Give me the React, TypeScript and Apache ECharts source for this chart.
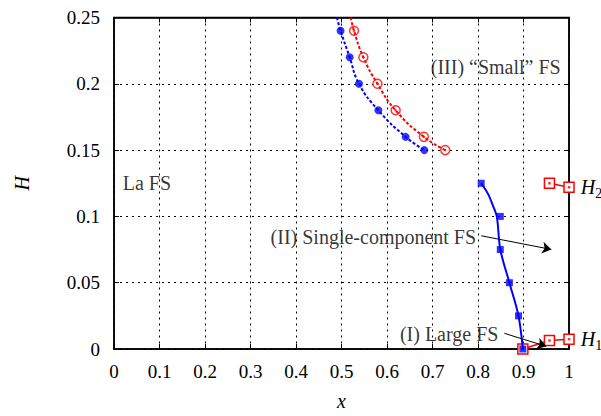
import React, { useEffect, useRef } from "react";
import * as echarts from "echarts";

// Axis ticks
const xTicks = [0, 0.1, 0.2, 0.3, 0.4, 0.5, 0.6, 0.7, 0.8, 0.9, 1];
const yTicks = [0, 0.05, 0.1, 0.15, 0.2, 0.25];

// Blue filled circles (dotted fitted curve)
const blueCircleX = [0.498, 0.518, 0.5385, 0.581, 0.641, 0.682];
const blueCircleY = [0.24, 0.22, 0.2, 0.18, 0.16, 0.15];
const blueCurveTop = [0.49, 0.25];

// Red open circles (dotted fitted curve)
const redCircleX = [0.5275, 0.548, 0.579, 0.619, 0.681, 0.728];
const redCircleY = [0.24, 0.22, 0.2, 0.18, 0.16, 0.15];
const redCurveTop = [0.52, 0.25];

// Blue filled squares, single-component branch
const blueSquareX = [0.807, 0.849, 0.849, 0.869, 0.889, 0.8986];
const blueSquareY = [0.125, 0.1, 0.075, 0.05, 0.025, 0];
// Fitted solid curve through the single-component branch
const blueFitX = [0.807, 0.822, 0.833, 0.8415, 0.849, 0.869, 0.889, 0.8986];
const blueFitY = [0.125, 0.117, 0.108, 0.0996, 0.075, 0.05, 0.025, 0];

// Red open squares, H1 and H2 branches
const h1X = [0.8986, 0.957, 1.0];
const h1Y = [0, 0.0064, 0.0074];
const h2X = [0.957, 1.0];
const h2Y = [0.125, 0.122];

// Annotations
const annoText = ["(III) \u201cSmall\u201d FS", "La FS", "(II) Single-component FS", "(I) Large FS"];
const annoX = [0.839, 0.0724, 0.57, 0.7366];
const annoY = [0.2128, 0.1252, 0.0842, 0.0113];
const arrowFrom = [[0.807, 0.0854], [0.858, 0.0118]];
const arrowTo = [[0.961, 0.0751], [0.95, 0.002]];

const FONT = "'Liberation Serif', 'Times New Roman', Times, 'DejaVu Serif', serif";
const zip = (xs: number[], ys: number[]) => xs.map((x, i) => [x, ys[i]]);

export default function App() {
  const ref = useRef<HTMLDivElement>(null);
  useEffect(() => {
    if (!ref.current) return;
    const chart = echarts.init(ref.current, null, { renderer: "svg" });
    const xMin = xTicks[0], xMax = xTicks[xTicks.length - 1], xInt = xTicks[1] - xTicks[0];
    const yMin = yTicks[0], yMax = yTicks[yTicks.length - 1], yInt = yTicks[1] - yTicks[0];
    const axisCommon = {
      axisLine: { show: true, onZero: false, lineStyle: { color: "#000", width: 1.5 } },
      axisTick: { show: true, inside: true, length: 5, lineStyle: { color: "#000", width: 1 } },
    };
    const hLabel = (sub: string) => ({
      show: true,
      position: "right",
      distance: 6,
      formatter: `{h|H}{s|${sub}}`,
      rich: {
        h: { fontFamily: FONT, fontStyle: "italic", fontSize: 20, color: "#000", lineHeight: 22 },
        s: { fontFamily: FONT, fontSize: 14, color: "#000", padding: [12, 0, 0, 0], lineHeight: 22 },
      },
    });
    const h1Data = zip(h1X, h1Y).map((v, i) =>
      i === h1X.length - 1 ? { value: v, label: hLabel("1") } : { value: v }
    );
    const h2Data = zip(h2X, h2Y).map((v, i) =>
      i === h2X.length - 1 ? { value: v, label: hLabel("2") } : { value: v }
    );
    chart.setOption({
      animation: false,
      backgroundColor: "#fff",
      textStyle: { fontFamily: FONT },
      grid: { left: 114, right: 32, top: 17.5, bottom: 59, show: true, borderColor: "#000", borderWidth: 1.5 },
      xAxis: [
        {
          type: "value", min: xMin, max: xMax, interval: xInt, position: "bottom",
          ...axisCommon,
          name: "x", nameLocation: "middle", nameGap: 42,
          nameTextStyle: { fontFamily: FONT, fontStyle: "italic", fontSize: 20, color: "#000" },
          axisLabel: { fontFamily: FONT, fontSize: 19, color: "#000", margin: 13 },
          splitLine: { show: true, lineStyle: { color: "#000", width: 1, type: [2, 4] } },
        },
        {
          type: "value", min: xMin, max: xMax, interval: xInt, position: "top",
          ...axisCommon, axisLabel: { show: false }, splitLine: { show: false },
        },
      ],
      yAxis: [
        {
          type: "value", min: yMin, max: yMax, interval: yInt, position: "left",
          ...axisCommon,
          name: "H", nameLocation: "middle", nameGap: 82, nameRotate: 90,
          nameTextStyle: { fontFamily: FONT, fontStyle: "italic", fontSize: 20, color: "#000" },
          axisLabel: { fontFamily: FONT, fontSize: 19, color: "#000", margin: 14 },
          splitLine: { show: true, lineStyle: { color: "#000", width: 1, type: [2, 4] } },
        },
        {
          type: "value", min: yMin, max: yMax, interval: yInt, position: "right",
          ...axisCommon, axisLabel: { show: false }, splitLine: { show: false },
        },
      ],
      series: [
        {
          type: "line", smooth: true, symbol: "none",
          data: [blueCurveTop, ...zip(blueCircleX, blueCircleY)],
          lineStyle: { color: "#0000ff", width: 2, type: [3, 2] },
        },
        {
          type: "line", smooth: true, symbol: "none",
          data: [redCurveTop, ...zip(redCircleX, redCircleY)],
          lineStyle: { color: "#ff0000", width: 2, type: [3, 2] },
        },
        {
          type: "scatter", symbol: "circle", symbolSize: 8,
          data: zip(blueCircleX, blueCircleY),
          itemStyle: { color: "#0000ff" },
        },
        {
          type: "scatter", symbol: "circle", symbolSize: 9,
          data: zip(redCircleX, redCircleY),
          itemStyle: { color: "#fff", borderColor: "#ff0000", borderWidth: 1.5 },
        },
        {
          type: "scatter", symbol: "circle", symbolSize: 2.5,
          data: zip(redCircleX, redCircleY),
          itemStyle: { color: "#ff0000" },
        },
        {
          type: "line", symbol: "rect", symbolSize: 10, showSymbol: true, z: 2,
          data: h1Data,
          lineStyle: { color: "#ff0000", width: 1.5 },
          itemStyle: { color: "#fff", borderColor: "#ff0000", borderWidth: 1.5 },
        },
        {
          type: "line", symbol: "rect", symbolSize: 10, showSymbol: true, z: 2,
          data: h2Data,
          lineStyle: { color: "#ff0000", width: 1.5 },
          itemStyle: { color: "#fff", borderColor: "#ff0000", borderWidth: 1.5 },
        },
        {
          type: "scatter", symbol: "rect", symbolSize: 2.5, z: 3,
          data: [...zip(h1X, h1Y), ...zip(h2X, h2Y)],
          itemStyle: { color: "#ff0000" },
        },
        {
          type: "line", smooth: 0.3, symbol: "none", z: 4,
          data: zip(blueFitX, blueFitY),
          lineStyle: { color: "#0000ff", width: 2 },
        },
        {
          type: "scatter", symbol: "rect", symbolSize: 7, z: 5, clip: false,
          data: zip(blueSquareX, blueSquareY),
          itemStyle: { color: "#0000ff" },
        },
        {
          type: "lines", coordinateSystem: "cartesian2d", z: 5,
          symbol: ["none", "arrow"], symbolSize: [0, 9],
          lineStyle: { color: "#000", width: 1, opacity: 1 },
          data: arrowFrom.map((f, i) => ({ coords: [f, arrowTo[i]] })),
        },
        {
          type: "scatter", symbolSize: 0, clip: false, z: 6,
          data: annoText.map((t, i) => ({ name: t, value: [annoX[i], annoY[i]] })),
          label: {
            show: true, position: "inside", formatter: "{b}",
            fontFamily: FONT, fontSize: 20, color: "#000",
          },
        },
      ],
    });
    return () => chart.dispose();
  }, []);
  return <div ref={ref} style={{ width: 601, height: 416, position: "absolute", left: 0, top: 0 }} />;
}
